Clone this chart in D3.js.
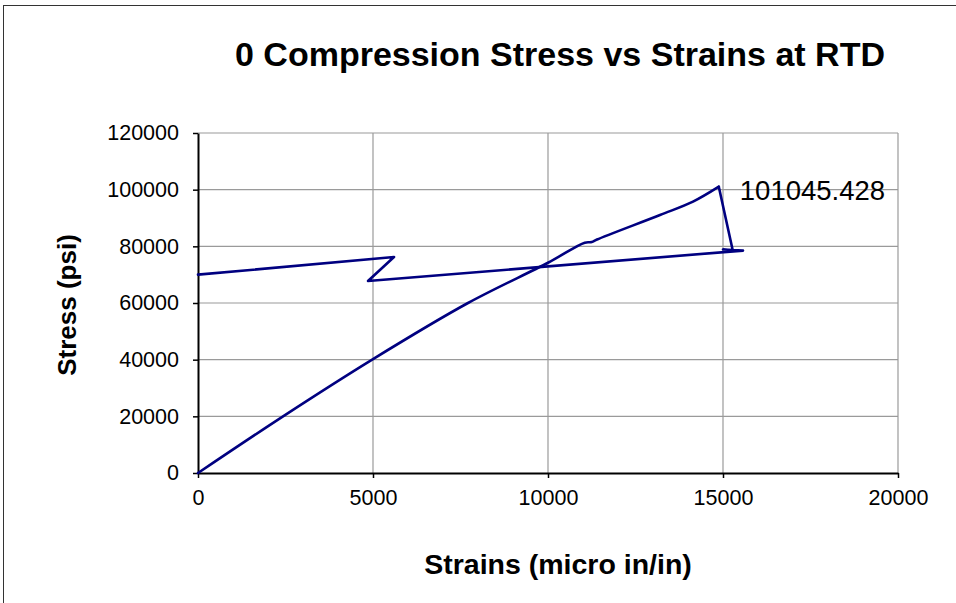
<!DOCTYPE html>
<html>
<head>
<meta charset="utf-8">
<script src="https://cdn.jsdelivr.net/npm/d3@7/dist/d3.min.js"></script>
<style>
  html, body { margin: 0; padding: 0; background: #fff; }
  svg { display: block; font-family: "Liberation Sans", Arial, sans-serif; }
</style>
</head>
<body>
<svg id="chart" width="956" height="603"></svg>
<script>
// Strain (micro in/in) readings, in test order
const strains = [0, 2430, 5000, 7714, 10000, 11050, 11250, 11400, 13200, 14143, 14880,
                 15276, 15000, 15571, 4857, 5600, 0];
// Stress (psi) readings matching each strain
const stresses = [0, 20000, 40200, 60000, 74200, 81300, 81500, 82400, 91060, 95760, 101045,
                  78700, 78900, 78500, 67770, 76240, 70000];
const xTicks = [0, 5000, 10000, 15000, 20000];
const yTicks = [0, 20000, 40000, 60000, 80000, 100000, 120000];
const peakLabel = "101045.428";

(function () {
  const svg = d3.select("#chart");
  const W = 956, H = 603;
  const pLeft = 198, pRight = 898, pTop = 133, pBottom = 473;

  svg.append("rect").attr("width", W).attr("height", H).attr("fill", "#fff");
  // outer chart frame
  svg.append("rect").attr("x", 3.5).attr("y", 5.5).attr("width", 1100).attr("height", 1100)
    .attr("fill", "none").attr("stroke", "#333").attr("stroke-width", 1);

  const x = d3.scaleLinear().domain([0, 20000]).range([pLeft, pRight]);
  const y = d3.scaleLinear().domain([0, 120000]).range([pBottom, pTop]);

  // gridlines
  const grid = svg.append("g").attr("stroke", "#9a9a9a").attr("stroke-width", 1.2);
  grid.selectAll("line.h").data(yTicks.filter(d => d > 0)).join("line").attr("class", "h")
    .attr("x1", pLeft).attr("x2", pRight).attr("y1", d => y(d)).attr("y2", d => y(d));
  grid.selectAll("line.v").data(xTicks.filter(d => d > 0)).join("line").attr("class", "v")
    .attr("y1", pTop).attr("y2", pBottom).attr("x1", d => x(d)).attr("x2", d => x(d));

  // axes
  const xAxis = svg.append("g").attr("transform", `translate(0,${pBottom})`)
    .call(d3.axisBottom(x).tickValues(xTicks).tickFormat(d3.format("d")).tickSizeInner(5).tickSizeOuter(0).tickPadding(12));
  const yAxis = svg.append("g").attr("transform", `translate(${pLeft},0)`)
    .call(d3.axisLeft(y).tickValues(yTicks).tickFormat(d3.format("d")).tickSizeInner(5).tickSizeOuter(0).tickPadding(14));
  [xAxis, yAxis].forEach(a => {
    a.select(".domain").attr("stroke", "#000").attr("stroke-width", 2);
    a.selectAll(".tick line").attr("stroke", "#000").attr("stroke-width", 1.5);
    a.selectAll(".tick text").attr("font-family", "Liberation Sans, Arial, sans-serif")
      .attr("font-size", 21.5).attr("fill", "#000");
  });

  // stress-strain trace: smooth loading branch up to the peak, straight segments after it
  const pts = strains.map((s, i) => [s, stresses[i]]);
  const peakIdx = stresses.indexOf(d3.max(stresses));
  const lineStyle = p => p.attr("fill", "none").attr("stroke", "#000080").attr("stroke-width", 2.6)
    .attr("stroke-linejoin", "round").attr("stroke-linecap", "round");
  svg.append("path").datum(pts.slice(0, peakIdx + 1)).call(lineStyle)
    .attr("d", d3.line().curve(d3.curveCatmullRom.alpha(0.5)).x(d => x(d[0])).y(d => y(d[1])));
  svg.append("path").datum(pts.slice(peakIdx)).call(lineStyle)
    .attr("d", d3.line().x(d => x(d[0])).y(d => y(d[1])));

  // peak value label
  svg.append("text").attr("x", x(strains[peakIdx]) + 21).attr("y", y(stresses[peakIdx]) + 13)
    .attr("font-size", 27.5).attr("fill", "#000").text(peakLabel);

  // titles
  svg.append("text").attr("x", 560).attr("y", 66).attr("text-anchor", "middle")
    .attr("font-size", 34).attr("font-weight", "bold").text("0 Compression Stress vs Strains at RTD");
  svg.append("text").attr("x", 558).attr("y", 574).attr("text-anchor", "middle")
    .attr("font-size", 28.5).attr("font-weight", "bold").text("Strains (micro in/in)");
  svg.append("text").attr("transform", "translate(76,305) rotate(-90)").attr("text-anchor", "middle")
    .attr("font-size", 26).attr("font-weight", "bold").text("Stress (psi)");
})();
</script>
</body>
</html>
